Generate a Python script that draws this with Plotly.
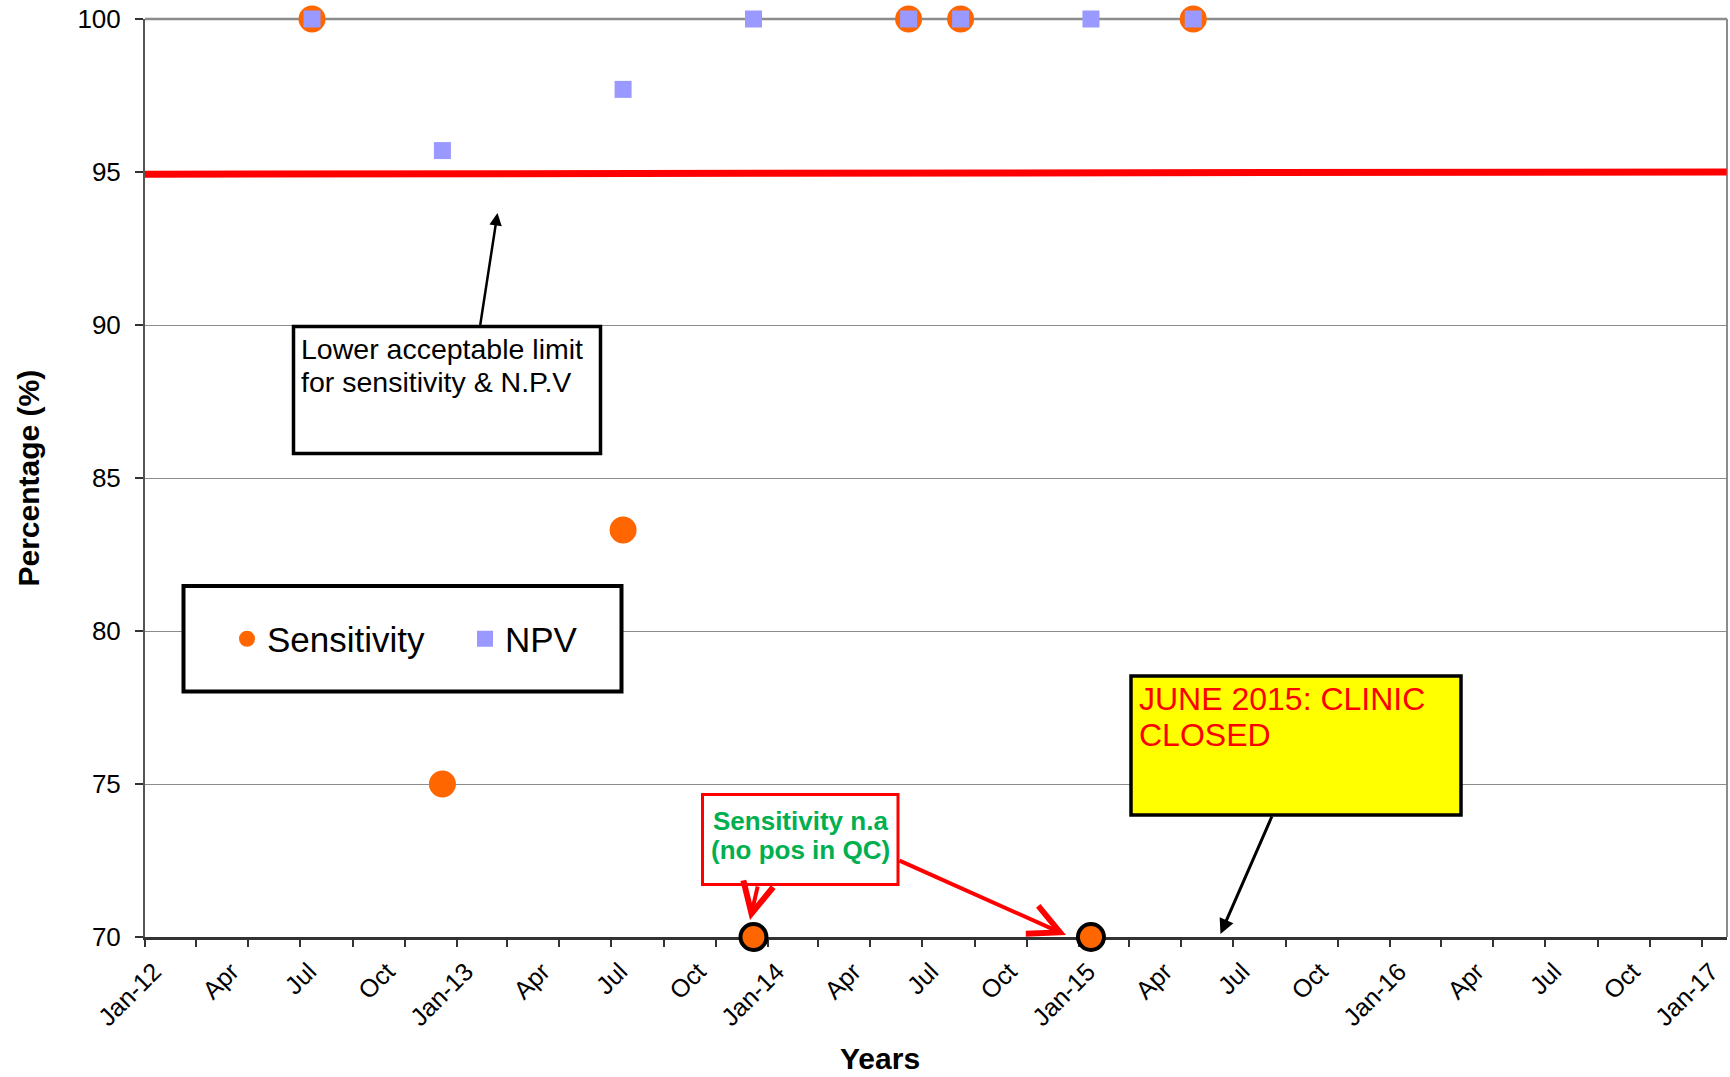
import plotly.graph_objects as go

# ---------------- data ----------------
dates = ["2012-07-15", "2012-12-15", "2013-07-15", "2013-12-15",
         "2014-06-15", "2014-08-15", "2015-01-15", "2015-05-15"]
sensitivity = [100, 75, 83.3, None, 100, 100, None, 100]
npv = [100, 95.7, 97.7, 100, 100, 100, 100, 100]

# sensitivity not available (no positives in QC) -> shown on the axis floor
sens_na_dates = ["2013-12-15", "2015-01-15"]
sens_na_values = [70, 70]

limit_dates = ["2012-01-01", "2017-01-30"]
limit_values = [94.93, 95.0]

tick_dates = ["2012-01-01", "2012-04-01", "2012-07-01", "2012-10-01",
              "2013-01-01", "2013-04-01", "2013-07-01", "2013-10-01",
              "2014-01-01", "2014-04-01", "2014-07-01", "2014-10-01",
              "2015-01-01", "2015-04-01", "2015-07-01", "2015-10-01",
              "2016-01-01", "2016-04-01", "2016-07-01", "2016-10-01",
              "2017-01-01"]
tick_labels = ["Jan-12", "Apr", "Jul", "Oct", "Jan-13", "Apr", "Jul", "Oct",
               "Jan-14", "Apr", "Jul", "Oct", "Jan-15", "Apr", "Jul", "Oct",
               "Jan-16", "Apr", "Jul", "Oct", "Jan-17"]

FONT = "Liberation Sans, Arial, sans-serif"
ORANGE = "#FF6600"
LAV = "#9999FF"

# plot-area geometry (page pixels)
W, H = 1730, 1077
L_PX, R_PX, T_PX, B_PX = 145, 1727, 19, 937
ML, MT, MR, MB = L_PX, T_PX, W - R_PX, H - B_PX
PW, PH = R_PX - L_PX, B_PX - T_PX


def px_x(px):
    return (px - L_PX) / PW


def px_y(py):
    return (B_PX - py) / PH


fig = go.Figure()

fig.add_trace(go.Scatter(
    x=limit_dates, y=limit_values, mode="lines",
    line=dict(color="#FF0000", width=7), showlegend=False, hoverinfo="skip"))

fig.add_trace(go.Scatter(
    x=dates, y=sensitivity, mode="markers", name="Sensitivity",
    marker=dict(symbol="circle", size=27, color=ORANGE, line=dict(width=0)),
    cliponaxis=False))

fig.add_trace(go.Scatter(
    x=sens_na_dates, y=sens_na_values, mode="markers", name="Sensitivity n.a",
    marker=dict(symbol="circle", size=26, color=ORANGE,
                line=dict(color="black", width=4)),
    cliponaxis=False, showlegend=False))

fig.add_trace(go.Scatter(
    x=dates, y=npv, mode="markers", name="NPV",
    marker=dict(symbol="square", size=17, color=LAV, line=dict(width=0)),
    cliponaxis=False))

shapes = []
# borders (top / right)
shapes.append(dict(type="line", xref="paper", yref="paper", x0=0, x1=1, y0=1, y1=1,
                   line=dict(color="#8C8C8C", width=2.5), layer="below"))
shapes.append(dict(type="line", xref="paper", yref="paper", x0=1, x1=1, y0=0, y1=1,
                   line=dict(color="#8C8C8C", width=2), layer="below"))


def box(x0, y0, x1, y1, fill, color, width):
    shapes.append(dict(type="rect", xref="paper", yref="paper",
                       x0=px_x(x0), x1=px_x(x1), y0=px_y(y1), y1=px_y(y0),
                       fillcolor=fill, line=dict(color=color, width=width),
                       layer="above"))


# legend box
box(183.5, 586, 621.5, 691.5, "white", "black", 4)
# text boxes
box(293.5, 326.5, 600.5, 453.5, "white", "black", 3.5)
box(702.5, 794.5, 898, 884.5, "white", "#FF0000", 3)
box(1131, 676, 1461, 815, "#FFFF00", "black", 3.5)

annotations = []


def text(x, y, s, size, color="black", bold=False, xanchor="left"):
    annotations.append(dict(
        xref="paper", yref="paper", x=px_x(x), y=px_y(y), text=s,
        showarrow=False, xanchor=xanchor, yanchor="middle",
        font=dict(family=FONT, size=size, color=color,
                  weight="bold" if bold else "normal")))


def arrow(tx, ty, hx, hy, color, width, head, size=1.0):
    annotations.append(dict(
        xref="paper", yref="paper", x=px_x(hx), y=px_y(hy),
        ax=tx - hx, ay=ty - hy, axref="pixel", ayref="pixel",
        text="", showarrow=True, arrowhead=head, arrowsize=size,
        arrowwidth=width, arrowcolor=color, standoff=0, startstandoff=0))


text(299, 348.5, "Lower acceptable limit", 28.5)
text(299, 381.5, "for sensitivity &amp; N.P.V", 28.5)
text(1137, 698.5, "JUNE 2015: CLINIC", 32, color="#FF0000")
text(1137, 734.5, "CLOSED", 32, color="#FF0000")
text(800.5, 821, "Sensitivity n.a", 26, color="#00B050", bold=True, xanchor="center")
text(800.5, 850, "(no pos in QC)", 26, color="#00B050", bold=True, xanchor="center")

arrow(480, 326.5, 497.5, 213, "black", 2.5, 2)
arrow(1272.5, 815, 1220.5, 934, "black", 3, 2)
arrow(758, 885, 750, 920, "#FF0000", 4, 5, 1.5)
arrow(898, 860, 1066, 935, "#FF0000", 4, 5, 1.5)

# axis titles
annotations.append(dict(
    xref="paper", yref="paper", x=px_x(27.5), y=px_y(478), text="Percentage (%)",
    textangle=-90, showarrow=False, xanchor="center", yanchor="middle",
    font=dict(family=FONT, size=30, color="black", weight="bold")))
annotations.append(dict(
    xref="paper", yref="paper", x=px_x(880), y=px_y(1058), text="Years",
    showarrow=False, xanchor="center", yanchor="middle",
    font=dict(family=FONT, size=30, color="black", weight="bold")))

fig.update_layout(
    width=W, height=H,
    margin=dict(l=ML, r=MR, t=MT, b=MB, pad=0),
    paper_bgcolor="white", plot_bgcolor="white",
    font=dict(family=FONT, color="black"),
    shapes=shapes, annotations=annotations,
    showlegend=True,
    legend=dict(orientation="h", x=px_x(227), y=px_y(639), xanchor="left",
                yanchor="middle", bgcolor="rgba(0,0,0,0)", borderwidth=0,
                font=dict(family=FONT, size=35, color="black"),
                entrywidth=193, itemsizing="trace"),
    xaxis=dict(
        type="date", range=[limit_dates[0], "2017-01-30 08:00"],
        tickmode="array", tickvals=tick_dates, ticktext=tick_labels,
        tickangle=-45, tickfont=dict(family=FONT, size=25, color="black"),
        ticks="outside", ticklen=7, tickcolor="rgba(0,0,0,0)",
        ticklabelshift=9,
        minor=dict(ticks="outside", ticklen=7, tickcolor="#333333",
                   tickwidth=1.5, dtick="M2", tick0="2012-01-01", showgrid=False),
        showgrid=False, zeroline=False,
        showline=True, linecolor="#333333", linewidth=3,
        layer="below traces"),
    yaxis=dict(
        range=[70, 100], tick0=70, dtick=5,
        tickfont=dict(family=FONT, size=26, color="black"),
        ticks="outside", ticklen=8, tickcolor="#333333", tickwidth=1.5,
        ticklabelstandoff=9, ticklabeloverflow="allow",
        showgrid=True, gridcolor="#8C8C8C", gridwidth=1.2,
        zeroline=False, showline=True, linecolor="#555555", linewidth=2,
        layer="below traces"),
)

# remove the browser's default 8px body margin so the figure fills the window
fig.write_html("out.html", config={"displayModeBar": False},
               post_script="document.body.style.margin='0px';")
